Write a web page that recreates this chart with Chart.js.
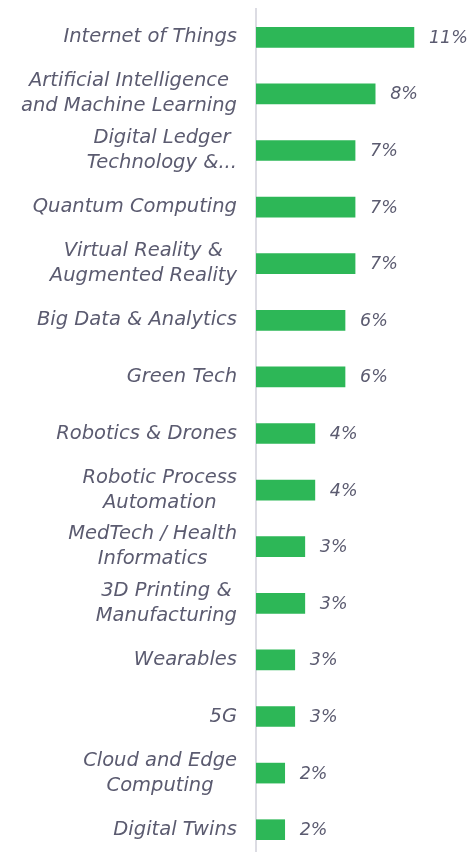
<!DOCTYPE html>
<html>
<head>
<meta charset="utf-8">
<script src="https://cdn.jsdelivr.net/npm/chart.js@4.4.1/dist/chart.umd.min.js"></script>
<style>
  html, body { margin: 0; padding: 0; background: #fff; overflow: hidden; }
  #wrap { width: 471px; height: 862px; position: relative; }
</style>
</head>
<body>
<div id="wrap"><canvas id="graphiqueBarres"></canvas></div>
<script>
var categories = [
  'Internet of Things',
  ['Artificial Intelligence', 'and Machine Learning'],
  ['Digital Ledger', 'Technology &...'],
  'Quantum Computing',
  ['Virtual Reality &', 'Augmented Reality'],
  'Big Data & Analytics',
  'Green Tech',
  'Robotics & Drones',
  ['Robotic Process', 'Automation'],
  ['MedTech / Health', 'Informatics'],
  ['3D Printing &', 'Manufacturing'],
  'Wearables',
  '5G',
  ['Cloud and Edge', 'Computing'],
  'Digital Twins'
];
var valeurs = [11.0, 8.3, 6.9, 6.9, 6.9, 6.2, 6.2, 4.1, 4.1, 3.4, 3.4, 2.7, 2.7, 2.0, 2.0];
var etiquettes = ['11%', '8%', '7%', '7%', '7%', '6%', '6%', '4%', '4%', '3%', '3%', '3%', '3%', '2%', '2%'];

var couleurTexte = '#5b5b70';
var famille = '"DejaVu Sans", Verdana, sans-serif';

// etiquettes des categories : bloc aligne a droite, lignes centrees entre elles
var etiquettesCategories = {
  id: 'etiquettesCategories',
  afterDraw: function(chart) {
    var ctx = chart.ctx;
    var echelle = chart.scales.y;
    var droite = 237;
    var hauteurLigne = 25;
    ctx.save();
    ctx.font = 'italic 19.5px ' + famille;
    ctx.fillStyle = couleurTexte;
    ctx.textAlign = 'center';
    ctx.textBaseline = 'middle';
    categories.forEach(function(cat, i) {
      var lignes = Array.isArray(cat) ? cat : [cat];
      var largeur = Math.max.apply(null, lignes.map(function(l) { return ctx.measureText(l).width; }));
      var cx = droite - largeur / 2;
      var y = echelle.getPixelForValue(i);
      var y0 = y - (lignes.length - 1) * hauteurLigne / 2;
      lignes.forEach(function(l, j) {
        ctx.fillText(l, cx, y0 + j * hauteurLigne);
      });
    });
    ctx.restore();
  }
};

// petites etiquettes au bout des barres (pas de plugin datalabels dispo)
var etiquettesBarres = {
  id: 'etiquettesBarres',
  afterDatasetsDraw: function(chart) {
    var ctx = chart.ctx;
    var meta = chart.getDatasetMeta(0);
    ctx.save();
    ctx.font = 'italic 17.5px ' + famille;
    ctx.fillStyle = couleurTexte;
    ctx.textAlign = 'left';
    ctx.textBaseline = 'middle';
    meta.data.forEach(function(bar, i) {
      ctx.fillText(etiquettes[i], bar.x + 15, bar.y + 1);
    });
    ctx.restore();
  }
};

var ctx = document.getElementById('graphiqueBarres').getContext('2d');
var graphique = new Chart(ctx, {
  type: 'bar',
  data: {
    labels: categories,
    datasets: [{
      data: valeurs,
      backgroundColor: '#2db757',
      borderWidth: 0,
      barThickness: 20
    }]
  },
  options: {
    indexAxis: 'y',
    responsive: true,
    maintainAspectRatio: false,
    animation: false,
    layout: { padding: { top: 9, right: 14, bottom: 4, left: 0 } },
    plugins: {
      legend: { display: false },
      tooltip: { enabled: false }
    },
    scales: {
      x: {
        display: false,
        min: 0,
        max: 14
      },
      y: {
        afterFit: function(scale) {
          scale.width = 256;
          scale.paddingTop = 0;
          scale.paddingBottom = 0;
        },
        grid: { display: false, drawTicks: false },
        border: { display: true, color: '#dcdce3', width: 2 },
        ticks: { display: false }
      }
    }
  },
  plugins: [etiquettesBarres, etiquettesCategories]
});
</script>
</body>
</html>
